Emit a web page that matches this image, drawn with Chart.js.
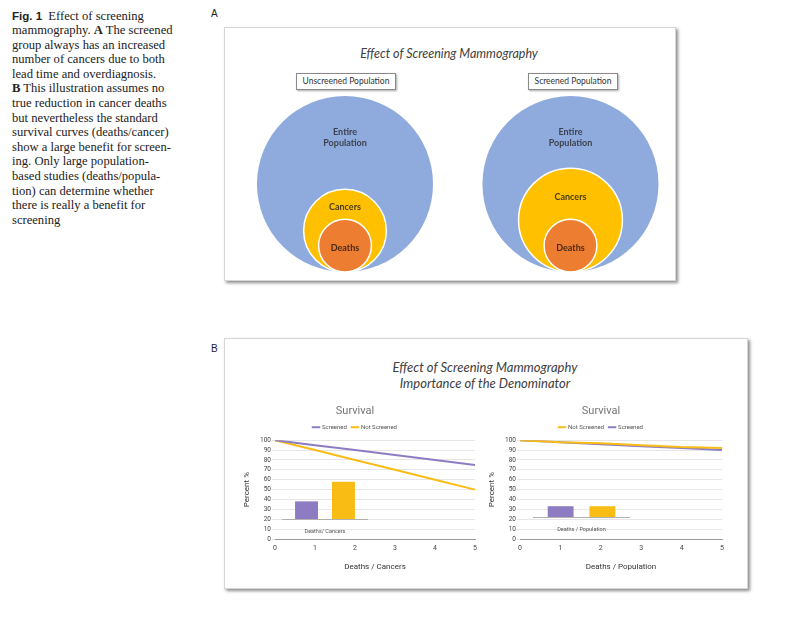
<!DOCTYPE html>
<html><head><meta charset="utf-8">
<script src="https://cdn.jsdelivr.net/npm/chart.js@4"></script>
<style>
body{margin:0;background:#fff;width:800px;height:617px;position:relative;overflow:hidden}
.abs{position:absolute}
#caption{left:12px;top:8.5px;font-family:'Liberation Serif',serif;font-size:12.6px;line-height:14.6px;color:#222;white-space:nowrap}
#caption .fig{font-family:'Liberation Sans',sans-serif;font-weight:bold;font-size:11.5px}
.plabel{font-family:'Liberation Sans',sans-serif;font-size:10px;color:#222}
.frame{background:#fff;border:1px solid #d6d6d6;box-shadow:2px 2px 3px rgba(0,0,0,0.45)}
.ttl{font-family:Lato,sans-serif;font-style:italic;color:#404040;text-align:center;white-space:nowrap}
.box{background:#fff;border:1px solid #8a8a8a;box-shadow:1px 1px 2px rgba(0,0,0,0.35);font-family:Lato,sans-serif;font-size:8.5px;color:#333;text-align:center;line-height:15px;white-space:nowrap}
.cv{position:absolute}
</style>
</head><body>
<div id="caption" class="abs"><span class="fig">Fig. 1</span>&nbsp; Effect of screening<br>mammography. <b>A</b> The screened<br>group always has an increased<br>number of cancers due to both<br>lead time and overdiagnosis.<br><b>B</b> This illustration assumes no<br>true reduction in cancer deaths<br>but nevertheless the standard<br>survival curves (deaths/cancer)<br>show a large benefit for screen-<br>ing. Only large population-<br>based studies (deaths/popula-<br>tion) can determine whether<br>there is really a benefit for<br>screening</div>

<div class="abs plabel" style="left:211px;top:8px">A</div>
<div class="abs plabel" style="left:211px;top:343px">B</div>

<div class="abs frame" style="left:224px;top:27px;width:450px;height:252px"></div>
<div class="abs ttl" style="left:224px;top:46px;width:450px;font-size:12.5px">Effect of Screening Mammography</div>
<div class="abs box" id="boxU" style="left:296px;top:73px;width:98px;height:15px"></div>
<div class="abs box" id="boxS" style="left:528px;top:73px;width:88px;height:15px"></div>
<div class="cv" style="left:224px;top:27px;width:452px;height:254px"><canvas id="cA"></canvas></div>

<div class="abs frame" style="left:224px;top:338px;width:522px;height:249px"></div>
<div class="abs ttl" style="left:224px;top:359px;width:522px;font-size:13px;line-height:16px">Effect of Screening Mammography<br>Importance of the Denominator</div>
<div class="cv" style="left:235px;top:399px;width:250px;height:184px"><canvas id="cL"></canvas></div>
<div class="cv" style="left:480px;top:399px;width:254px;height:184px"><canvas id="cR"></canvas></div>
<div class="cv" style="left:282px;top:470px;width:86px;height:66px"><canvas id="iL"></canvas></div>
<div class="cv" style="left:533px;top:468px;width:97px;height:66px"><canvas id="iR"></canvas></div>

<script>
// ---- Panel A data ----
const populationGroups = ['Unscreened Population', 'Screened Population'];
const circleLabels = ['Entire Population', 'Cancers', 'Deaths'];
const unscreenedRadius = [100, 47, 30];
const screenedRadius = [100, 59, 30];
const circleColors = ['#8FAADC', '#FFC000', '#ED7D31'];

// ---- Panel B data ----
const survivalTicks = ['0', '1', '2', '3', '4', '5'];
const cancersScreened = [100, 95, 90, 85, 80, 75];
const cancersNotScreened = [100, 90, 80, 70, 60, 50];
const populationNotScreened = [100, 98, 97, 95, 93, 92];
const populationScreened = [100, 98, 96, 94, 92, 90];
const insetCancersLabel = ['Deaths/ Cancers'];
const insetCancersScreened = [18];
const insetCancersNotScreened = [38];
const insetPopulationLabel = ['Deaths / Population'];
const insetPopulationScreened = [11];
const insetPopulationNotScreened = [11];

const PURPLE = '#8E7CC3', YELLOW = '#F9BC15';

document.getElementById('boxU').textContent = populationGroups[0];
document.getElementById('boxS').textContent = populationGroups[1];

Chart.defaults.animation = false;
Chart.defaults.events = [];
Chart.defaults.plugins.tooltip.enabled = false;

const circleLabelPlugin = {
  id: 'circleLabels',
  afterDatasetsDraw(chart) {
    const ctx = chart.ctx;
    chart.data.datasets.forEach((ds, di) => {
      const pts = chart.getDatasetMeta(di).data;
      const r = pts.map(p => p.options.radius);
      const top = pts.map((p, i) => p.y - r[i]);
      ctx.save();
      ctx.font = 'bold 9px Lato';
      ctx.fillStyle = '#3d4150';
      ctx.textAlign = 'center';
      ctx.textBaseline = 'middle';
      const words = circleLabels[0].split(' ');
      const ey = top[0] + r[0] * 0.475;
      ctx.fillText(words[0], pts[0].x, ey - 5.5);
      ctx.fillText(words[1], pts[0].x, ey + 5.5);
      ctx.fillStyle = '#4a3b10';
      ctx.fillText(circleLabels[1], pts[1].x, (top[1] + top[2]) / 2 + 3);
      ctx.fillStyle = '#4a2a18';
      ctx.fillText(circleLabels[2], pts[2].x, pts[2].y + 2);
      ctx.restore();
    });
  }
};

new Chart(document.getElementById('cA'), {
  type: 'scatter',
  data: {
    datasets: [unscreenedRadius, screenedRadius].map((radii, g) => ({
      label: populationGroups[g],
      data: radii.map(v => ({x: g + 1, y: v})),
      backgroundColor: circleColors,
      borderColor: ['rgba(255,255,255,0)', '#ffffff', '#ffffff'],
      borderWidth: 1.5,
      pointRadius: c => {
        const s = c.chart.scales.y;
        return s.getPixelForValue(0) - s.getPixelForValue(c.raw.y);
      }
    }))
  },
  options: {
    responsive: true, maintainAspectRatio: false,
    layout: {padding: 0},
    scales: {
      x: {type: 'linear', display: false, min: 0.4634, max: 2.468},
      y: {type: 'linear', display: false, min: -10.2, max: 278.4}
    },
    plugins: {legend: {display: false}}
  },
  plugins: [circleLabelPlugin]
});

function survivalChart(id, xTitle, series, padRight) {
  return new Chart(document.getElementById(id), {
    type: 'line',
    data: {
      labels: survivalTicks,
      datasets: series.map(s => ({
        label: s.label, data: s.data, borderColor: s.color, backgroundColor: s.color,
        borderWidth: 2, pointRadius: 0, tension: 0, fill: false
      }))
    },
    options: {
      responsive: true, maintainAspectRatio: false,
      layout: {padding: {left: 0, right: padRight, top: 0, bottom: 0}},
      plugins: {
        title: {display: true, text: 'Survival', color: '#757575',
          font: {family: 'Roboto', size: 11, weight: 'normal'}, padding: {top: 6, bottom: 1}},
        legend: {display: true, labels: {usePointStyle: true, pointStyle: 'line', color: '#555',
          font: {family: 'Roboto', size: 6}, padding: 5}}
      },
      scales: {
        x: {
          offset: false,
          grid: {display: false, drawTicks: false},
          border: {display: true, color: '#9a9a9a'},
          ticks: {font: {family: 'Roboto', size: 7}, color: '#444', padding: 5, maxRotation: 0, autoSkip: false},
          title: {display: true, text: xTitle, color: '#333', font: {family: 'Roboto', size: 8},
            padding: {top: 4, bottom: 11.5}},
          afterFit: s => { s.height = 44; }
        },
        y: {
          min: 0, max: 100,
          ticks: {stepSize: 10, font: {family: 'Roboto', size: 6.5}, color: '#444', padding: 1, autoSkip: false},
          grid: {color: '#e6e6e6', tickLength: 3},
          border: {display: false},
          title: {display: true, text: 'Percent %', color: '#333', font: {family: 'Roboto', size: 8},
            padding: {top: 7, bottom: 0}},
          afterFit: s => { s.width = 40; }
        }
      }
    }
  });
}

survivalChart('cL', 'Deaths / Cancers', [
  {label: 'Screened', data: cancersScreened, color: PURPLE},
  {label: 'Not Screened', data: cancersNotScreened, color: YELLOW}
], 10);
survivalChart('cR', 'Deaths / Population', [
  {label: 'Not Screened', data: populationNotScreened, color: YELLOW},
  {label: 'Screened', data: populationScreened, color: PURPLE}
], 12);

function insetChart(id, labels, screened, notScreened) {
  return new Chart(document.getElementById(id), {
    type: 'bar',
    data: {
      labels: labels,
      datasets: [
        {label: 'Screened', data: screened, backgroundColor: PURPLE},
        {label: 'Not Screened', data: notScreened, backgroundColor: YELLOW}
      ]
    },
    options: {
      responsive: true, maintainAspectRatio: false,
      layout: {padding: 0},
      categoryPercentage: 0.86, barPercentage: 0.62,
      plugins: {legend: {display: false}},
      scales: {
        x: {
          grid: {display: false, drawTicks: false},
          border: {display: true, color: '#b0b0b0'},
          ticks: {font: {family: 'Roboto', size: 5.5}, color: '#555', padding: 9},
          afterFit: s => { s.height = 17; }
        },
        y: {display: false, min: 0, max: 50}
      }
    }
  });
}
insetChart('iL', insetCancersLabel, insetCancersScreened, insetCancersNotScreened);
insetChart('iR', insetPopulationLabel, insetPopulationScreened, insetPopulationNotScreened);
</script>
</body></html>
